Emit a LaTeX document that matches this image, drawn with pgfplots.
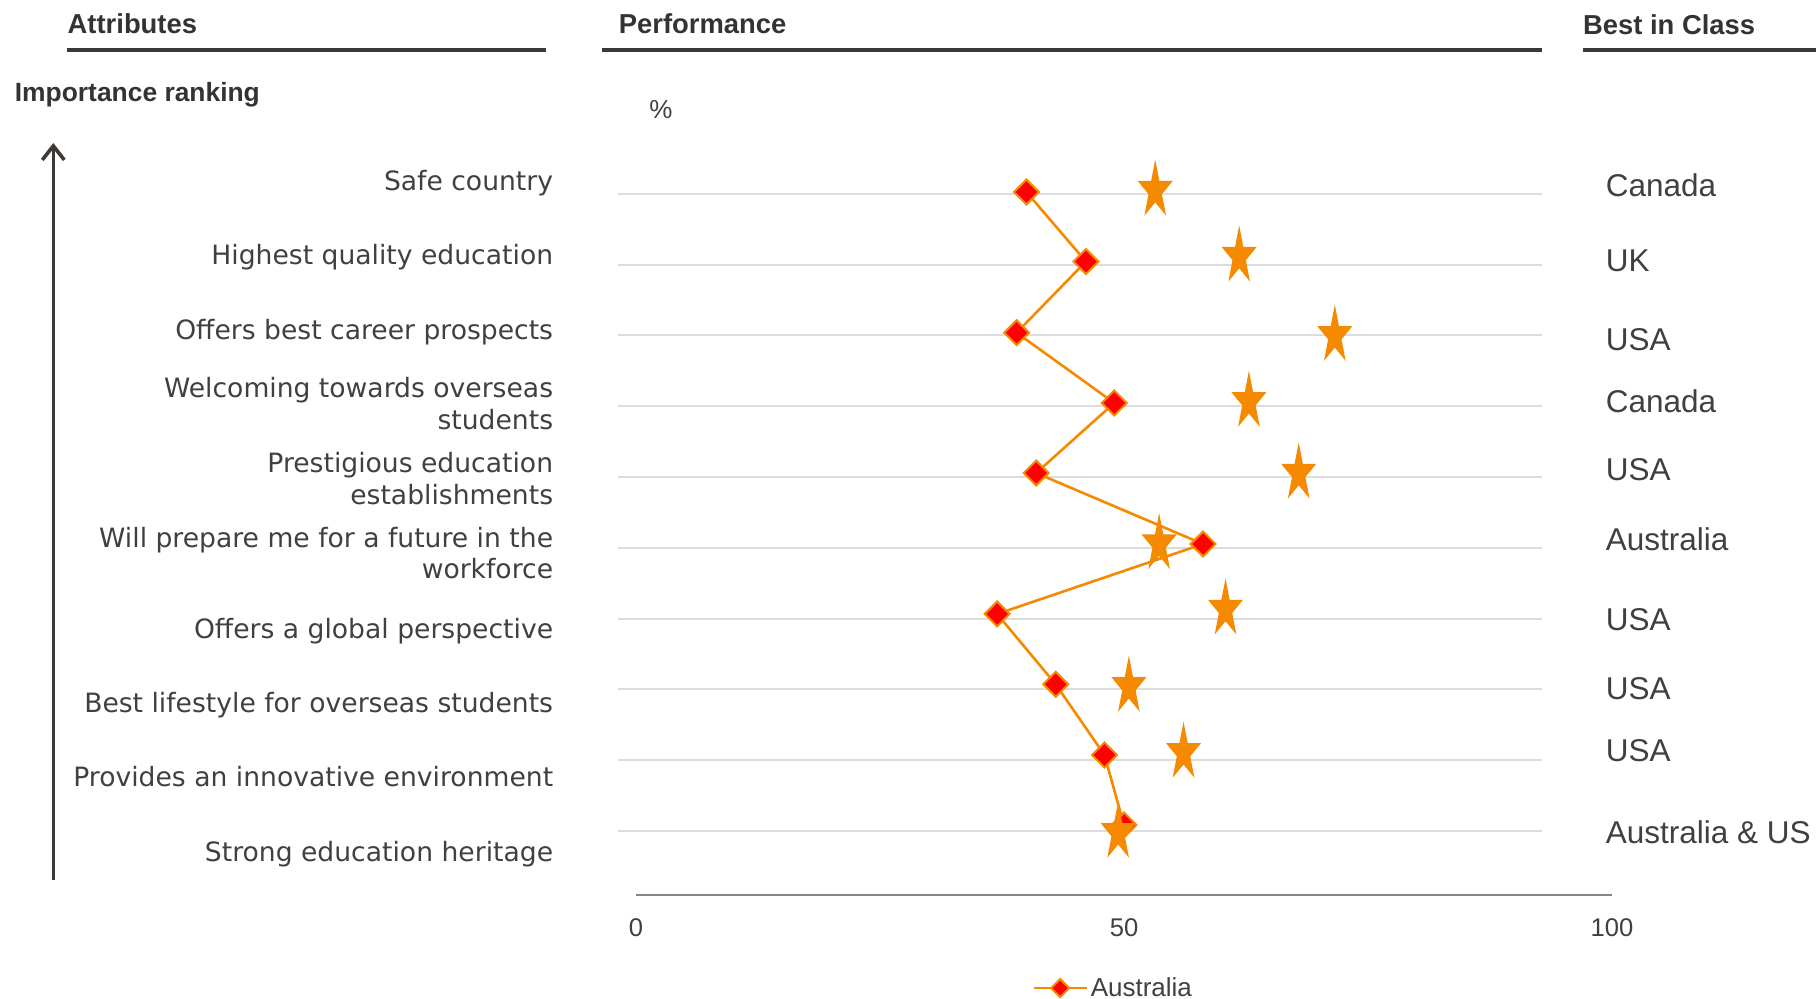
\documentclass[border=0pt]{standalone}
\usepackage{fontspec}
\setmainfont{Liberation Sans}
\newfontfamily\verd{DejaVu Sans}
\usepackage{pgfplots}
\pgfplotsset{compat=1.18}
\usetikzlibrary{arrows.meta}
\definecolor{txt}{RGB}{64,64,64}
\definecolor{hdr}{RGB}{51,51,51}
\definecolor{hline}{RGB}{61,57,53}
\definecolor{gridc}{RGB}{220,220,220}
\definecolor{myorange}{RGB}{245,137,0}
\definecolor{axisgray}{RGB}{134,134,134}
\pgfdeclareplotmark{tstar}{%
  \pgfpathmoveto{\pgfqpoint{0pt}{\pgfplotmarksize}}%
  \pgfpathlineto{\pgfqpoint{0.1334\pgfplotmarksize}{0.309\pgfplotmarksize}}%
  \pgfpathlineto{\pgfqpoint{0.565\pgfplotmarksize}{0.309\pgfplotmarksize}}%
  \pgfpathlineto{\pgfqpoint{0.2158\pgfplotmarksize}{-0.118\pgfplotmarksize}}%
  \pgfpathlineto{\pgfqpoint{0.3492\pgfplotmarksize}{-0.809\pgfplotmarksize}}%
  \pgfpathlineto{\pgfqpoint{0pt}{-0.382\pgfplotmarksize}}%
  \pgfpathlineto{\pgfqpoint{-0.3492\pgfplotmarksize}{-0.809\pgfplotmarksize}}%
  \pgfpathlineto{\pgfqpoint{-0.2158\pgfplotmarksize}{-0.118\pgfplotmarksize}}%
  \pgfpathlineto{\pgfqpoint{-0.565\pgfplotmarksize}{0.309\pgfplotmarksize}}%
  \pgfpathlineto{\pgfqpoint{-0.1334\pgfplotmarksize}{0.309\pgfplotmarksize}}%
  \pgfpathclose
  \pgfusepathqfill
}
\pgfplotstableread{
x y
40.0 -0.976
46.1 -1.958
39.0 -2.963
49.0 -3.956
41.0 -4.945
58.1 -5.948
37.0 -6.936
43.0 -7.929
48.0 -8.928
50.0 -9.917
}\australia
\pgfplotstableread{
x y
53.2 -0.955
61.8 -1.887
71.6 -3.006
62.8 -3.938
67.9 -4.951
53.6 -5.948
60.4 -6.871
50.5 -7.963
56.1 -8.895
49.4 -10.025
}\best
\begin{document}
\begin{tikzpicture}
\useasboundingbox (0,0) rectangle (908pt,-499pt);
% headers
\begin{scope}[every node/.style={inner sep=0pt, anchor=base west, text=hdr, font=\bfseries\fontsize{13.7pt}{15pt}\selectfont}]
\node at (33.65pt,-16.8pt) {Attributes};
\node at (309.25pt,-16.8pt) {Performance};
\node at (791.35pt,-17pt) {Best in Class};
\end{scope}
\node[inner sep=0pt, anchor=base west, text=hdr, font=\bfseries\fontsize{13.2pt}{15pt}\selectfont] at (7.25pt,-50.5pt) {Importance ranking};
\draw[hline, line width=2pt] (33.65pt,-25.15pt) -- (273pt,-25.15pt);
\draw[hline, line width=2pt] (301pt,-25.15pt) -- (771pt,-25.15pt);
\draw[hline, line width=2pt] (791.35pt,-25.15pt) -- (910pt,-25.15pt);
\node[inner sep=0pt, anchor=base west, text=txt, font=\fontsize{13pt}{15pt}\selectfont] at (324.5pt,-59pt) {\%};
% arrow
\draw[hline, line width=1.8pt, -{Straight Barb[length=7pt,width=11pt,line width=1.8pt]}] (26.65pt,-440pt) -- (26.65pt,-71.5pt);
% left labels
\begin{scope}[every node/.style={inner sep=0pt, anchor=base east, text=txt, font=\verd\fontsize{13.3pt}{16pt}\selectfont}]
\node at (276.75pt,-95.35pt) {Safe country};
\node at (276.75pt,-132.4pt) {Highest quality education};
\node at (276.75pt,-169.5pt) {Offers best career prospects};
\node at (276.75pt,-198.9pt) {Welcoming towards overseas};
\node at (276.75pt,-214.95pt) {students};
\node at (276.75pt,-236pt) {Prestigious education};
\node at (276.75pt,-252pt) {establishments};
\node at (276.75pt,-273.55pt) {Will prepare me for a future in the};
\node at (276.75pt,-289.1pt) {workforce};
\node at (276.75pt,-319pt) {Offers a global perspective};
\node at (276.75pt,-356.1pt) {Best lifestyle for overseas students};
\node at (276.75pt,-393.2pt) {Provides an innovative environment};
\node at (276.75pt,-430.75pt) {Strong education heritage};
\end{scope}
% right labels
\begin{scope}[every node/.style={inner sep=0pt, anchor=base west, text=txt, font=\fontsize{15.75pt}{18pt}\selectfont}]
\node at (802.75pt,-98.1pt) {Canada};
\node at (802.75pt,-135.5pt) {UK};
\node at (802.75pt,-175.2pt) {USA};
\node at (802.75pt,-206.45pt) {Canada};
\node at (802.75pt,-240pt) {USA};
\node at (802.75pt,-275.35pt) {Australia};
\node at (802.75pt,-315.3pt) {USA};
\node at (802.75pt,-349.5pt) {USA};
\node at (802.75pt,-380.75pt) {USA};
\node at (802.75pt,-421.6pt) {Australia \& US};
\end{scope}
\begin{axis}[
  at={(318pt,-61.45pt)}, anchor=north west,
  width=488pt, height=386.28pt, scale only axis,
  xmin=0, xmax=100, ymin=-10.912, ymax=0,
  axis x line=bottom, axis y line=none,
  x axis line style={-, draw=axisgray, line width=1pt},
  xtick={0,50,100}, major tick length=0pt, ytick=\empty,
  xticklabel style={anchor=base, inner sep=0pt, yshift=-20.6pt, text=txt, font=\fontsize{12.8pt}{14pt}\selectfont},
  /pgf/number format/assume math mode=true,
  clip=false,
  legend style={at={(axis cs:40.57,-12.22)}, anchor=west, draw=none, fill=none, inner sep=0pt,
    font=\fontsize{13pt}{15pt}\selectfont, text=txt, nodes={inner sep=1.4pt}},
  legend image code/.code={\draw[mark repeat=2,mark phase=2,#1] plot coordinates {(0pt,0pt) (13.25pt,0pt) (26.5pt,0pt)};},
  legend image post style={mark size=3.2pt},
]
\pgfplotsinvokeforeach{1,...,10}{\draw[gridc, line width=1pt] (axis cs:-1.84,-#1) -- (axis cs:92.83,-#1);}
\addplot[color=myorange, line width=1.3pt, mark=square*, mark size=4.4pt,
  mark options={rotate=45, fill=red, draw=myorange, line width=1pt, solid}] table[x=x,y=y] {\australia};
\addlegendentry{Australia}
\addplot[only marks, mark=tstar, mark size=15.5pt, color=myorange, fill=myorange, forget plot] table[x=x,y=y] {\best};
\end{axis}
\end{tikzpicture}
\end{document}
